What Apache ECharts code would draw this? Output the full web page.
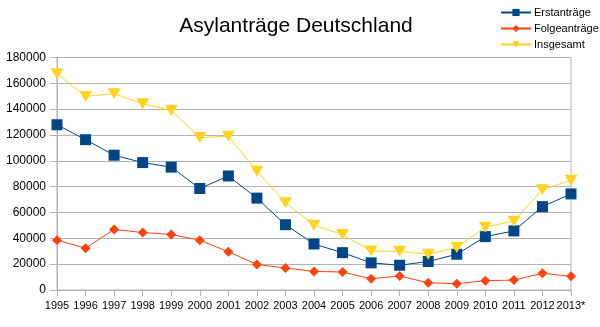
<!DOCTYPE html>
<html><head><meta charset="utf-8">
<script src="https://cdn.jsdelivr.net/npm/echarts@6/dist/echarts.min.js"></script>
<style>html,body{margin:0;padding:0;background:#fff}#c{width:600px;height:327px}</style>
</head><body><div id="c"></div>
<script>
const years = ['1995','1996','1997','1998','1999','2000','2001','2002','2003','2004','2005','2006','2007','2008','2009','2010','2011','2012','2013*'];
const erst = [127937,116367,104353,98644,95113,78564,88287,71127,50563,35607,28914,21029,19164,22085,27649,41332,45741,64539,74400];
const folge = [38600,32400,46900,44500,43000,38600,29600,19800,17000,14400,13900,8700,10800,5600,4900,7200,7700,12900,10600];
const gesamt = [167400,149900,152000,144200,139000,118000,119000,91900,67600,50100,42900,30100,30000,27700,33000,48600,53300,77700,85000];
const yTicks = {min:0, max:180000, interval:20000};
const font = 'Liberation Sans, Arial, sans-serif';
const chart = echarts.init(document.getElementById('c'));
chart.setOption({
  animation:false,
  backgroundColor:'#fff',
  textStyle:{fontFamily:font},
  title:{text:'Asylanträge Deutschland', left:291, top:11, textAlign:'center',
    textStyle:{fontSize:21, fontWeight:'normal', color:'#000', fontFamily:font}},
  legend:{orient:'vertical', left:500, top:7, padding:0, itemWidth:30, itemHeight:9, itemGap:5,
    textStyle:{fontSize:11, color:'#000', fontFamily:font, padding:[0,0,0,-2]},
    data:['Erstanträge','Folgeanträge','Insgesamt']},
  grid:{left:57, right:29, top:57.5, bottom:37, show:true, borderColor:'#b3b3b3', borderWidth:1, backgroundColor:'transparent'},
  xAxis:{type:'category', data:years, boundaryGap:false,
    axisLine:{lineStyle:{color:'#b3b3b3'}},
    axisTick:{show:true, length:6, lineStyle:{color:'#b3b3b3'}, alignWithLabel:true},
    axisLabel:{color:'#000', fontSize:11, fontFamily:font, margin:10, interval:0},
    splitLine:{show:false}},
  yAxis:{type:'value', min:yTicks.min, max:yTicks.max, interval:yTicks.interval,
    axisLine:{show:true, lineStyle:{color:'#b3b3b3'}},
    axisTick:{show:true, length:7, lineStyle:{color:'#b3b3b3'}},
    axisLabel:{color:'#000', fontSize:12, fontFamily:font, margin:11, formatter:v=>String(v)},
    splitLine:{lineStyle:{color:'#b3b3b3'}}},
  series:[
    {name:'Erstanträge', type:'line', data:erst, color:'#004586', symbol:'rect', symbolSize:11,
      lineStyle:{width:1}, itemStyle:{color:'#004586'}, z:3},
    {name:'Folgeanträge', type:'line', data:folge, color:'#ff420e', symbol:'diamond', symbolSize:10,
      lineStyle:{width:1}, itemStyle:{color:'#ff420e'}, z:2},
    {name:'Insgesamt', type:'line', data:gesamt, color:'#ffd320', symbol:'triangle', symbolRotate:180, symbolSize:[13,11],
      lineStyle:{width:1}, itemStyle:{color:'#ffd320'}, z:4}
  ]
});
</script></body></html>
